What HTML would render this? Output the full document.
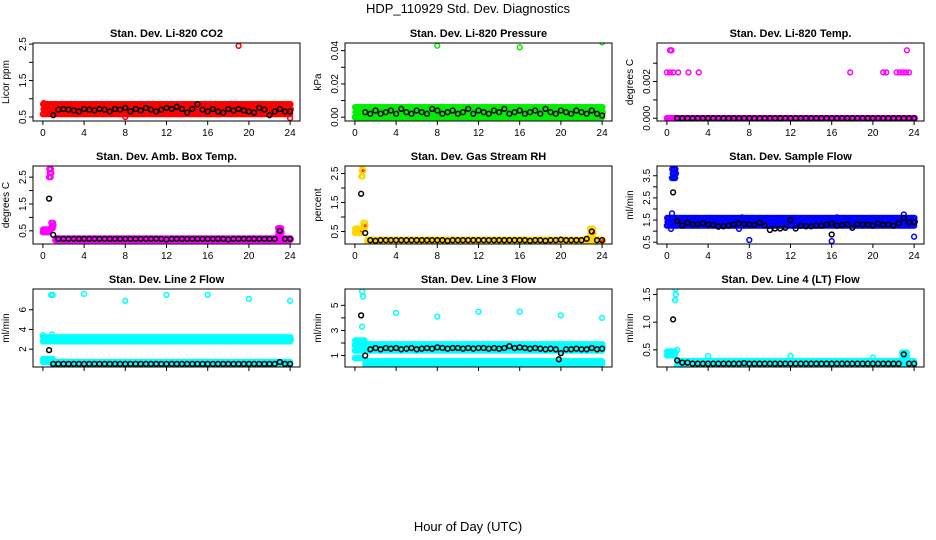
<!DOCTYPE html>
<html><head><meta charset="utf-8">
<style>
html,body{margin:0;padding:0;background:#fff;}
svg{display:block;font-family:"Liberation Sans",Arial,sans-serif;}
</style></head>
<body>
<svg id="chart" width="936" height="540" viewBox="0 0 936 540">
<text x="468" y="13" font-size="13" text-anchor="middle">HDP_110929  Std. Dev. Diagnostics</text>
<text x="468" y="531" font-size="13" text-anchor="middle">Hour of Day (UTC)</text>
</svg>
<script>
// ---------- data ----------
const xTicks = [0,4,8,12,16,20,24];
const panelTitles = ["Stan. Dev. Li-820 CO2","Stan. Dev. Li-820 Pressure","Stan. Dev. Li-820 Temp.",
 "Stan. Dev. Amb. Box Temp.","Stan. Dev. Gas Stream RH","Stan. Dev. Sample Flow",
 "Stan. Dev. Line 2 Flow","Stan. Dev. Line 3 Flow","Stan. Dev. Line 4 (LT) Flow"];
const yTitles = ["Licor ppm","kPa","degrees C","degrees C","percent","ml/min","ml/min","ml/min","ml/min"];
const yLims = [[0.39,2.53],[-0.0023,0.0446],[-0.00015,0.0041],[0.01,2.915],[0.07,2.76],[0.42,3.94],[0.19,8.1],[0.09,6.3],[0.19,1.6]];
const yTickVals = [[0.5,1,1.5,2,2.5],[0,0.01,0.02,0.03,0.04],[0,0.001,0.002,0.003],[0.5,1,1.5,2,2.5],[0.5,1,1.5,2,2.5],[0.5,1,1.5,2,2.5,3,3.5],[2,4,6],[1,2,3,4,5],[0.5,1,1.5]];
const yTickLabels = [["0.5","","1.5","","2.5"],["0.00","","0.02","","0.04"],["0.000","","0.002",""],["0.5","","1.5","","2.5"],["0.5","","1.5","","2.5"],["0.5","","1.5","","2.5","","3.5"],["2","4","6"],["1","","3","","5"],["0.5","1.0","1.5"]];
const seriesColors = ["#ff0000","#00ee00","#ff00ff","#ff00ff","#ffd700","#0000ff","#00ffff","#00ffff","#00ffff"];
// bands: [panel, hourStart, hourEnd, low, high]
const bands = [
 [0,0,24,0.58,0.85],
 [1,0,24,0.0,0.006],
 [2,0,24,0.0,0.0],
 [3,1.2,24,0.15,0.22],[3,0,0.7,0.45,0.55],[3,0.6,0.8,2.5,2.8],[3,0.8,1.0,0.6,0.8],[3,22.8,23.2,0.3,0.6],
 [4,1.2,24,0.15,0.22],[4,0,0.7,0.45,0.6],[4,0.6,0.8,2.4,2.8],[4,0.8,1.0,0.6,0.8],[4,22.8,23.2,0.3,0.6],
 [5,0,24,1.25,1.6],[5,0.5,0.8,3.4,3.8],
 [6,0,24,2.8,3.2],[6,1,24,0.4,0.7],[6,0,1,0.7,1.0],
 [7,0,24,1.4,1.9],[7,1,24,0.3,0.55],[7,0,0.5,0.8,0.8],[7,0,1,1.8,2.2],
 [8,1,24,0.22,0.3],[8,0,0.8,0.4,0.47],[8,0.8,0.9,1.4,1.6],[8,22.8,23.3,0.3,0.45]
];
// colored outliers: [panel, hour, value]
const outliers = [
 [0,19,2.45],[0,8,0.5],[0,24,0.47],[0,0.1,0.88],
 [1,8,0.043],[1,16,0.042],[1,24,0.045],
 [2,0.3,0.0037],[2,0.45,0.0037],[2,0,0.0025],[2,0.3,0.0025],[2,0.6,0.0025],[2,1.1,0.0025],[2,2.1,0.0025],[2,3.1,0.0025],[2,17.8,0.0025],[2,21,0.0025],[2,21.3,0.0025],[2,22.3,0.0025],[2,22.6,0.0025],[2,22.9,0.0025],[2,23.2,0.0025],[2,23.5,0.0025],[2,23.3,0.0037],
 [5,0.4,1.1],[5,7,1.1],[5,8,0.6],[5,16,0.55],[5,24,0.75],[5,0.5,1.8],[5,16.5,1.62],[5,7.3,1.62],[5,23,1.75],
 [6,0.8,7.5],[6,0.95,7.5],[6,4,7.6],[6,8,6.9],[6,12,7.5],[6,16,7.5],[6,20,7.1],[6,24,6.9],[6,0,3.4],[6,0.9,3.5],
 [7,0.7,6.1],[7,0.8,5.7],[7,0.7,3.3],[7,4,4.4],[7,8,4.1],[7,12,4.5],[7,16,4.5],[7,20,4.2],[7,24,4.0],
 [8,4,0.39],[8,12,0.39],[8,20,0.36],[8,1.0,0.5]
];
// black points every half hour from 1.0 to 24.0 (47 values)
const blackHours = [1,1.5,2,2.5,3,3.5,4,4.5,5,5.5,6,6.5,7,7.5,8,8.5,9,9.5,10,10.5,11,11.5,12,12.5,13,13.5,14,14.5,15,15.5,16,16.5,17,17.5,18,18.5,19,19.5,20,20.5,21,21.5,22,22.5,23,23.5,24];
const blackVals = [
 [0.55,0.7,0.72,0.7,0.68,0.65,0.72,0.7,0.68,0.72,0.7,0.65,0.72,0.7,0.75,0.65,0.72,0.68,0.75,0.7,0.65,0.7,0.75,0.72,0.78,0.72,0.62,0.72,0.85,0.7,0.65,0.72,0.65,0.62,0.72,0.68,0.72,0.68,0.65,0.62,0.75,0.7,0.55,0.65,0.72,0.65,0.65],
 [0.003,0.002,0.004,0.002,0.003,0.004,0.002,0.005,0.003,0.002,0.004,0.003,0.002,0.005,0.004,0.002,0.003,0.004,0.002,0.003,0.005,0.002,0.004,0.003,0.002,0.004,0.003,0.005,0.002,0.003,0.004,0.002,0.003,0.004,0.002,0.005,0.003,0.002,0.004,0.003,0.002,0.004,0.003,0.002,0.004,0.002,0.001],
 [0,0,0,0,0,0,0,0,0,0,0,0,0,0,0,0,0,0,0,0,0,0,0,0,0,0,0,0,0,0,0,0,0,0,0,0,0,0,0,0,0,0,0,0,0,0,0],
 [0.35,0.2,0.2,0.2,0.2,0.2,0.2,0.2,0.2,0.2,0.2,0.2,0.2,0.2,0.2,0.2,0.2,0.2,0.2,0.2,0.2,0.2,0.18,0.2,0.2,0.2,0.2,0.2,0.2,0.2,0.2,0.2,0.2,0.2,0.18,0.2,0.2,0.2,0.2,0.2,0.2,0.2,0.2,0.2,0.5,0.2,0.2],
 [0.45,0.2,0.18,0.2,0.2,0.2,0.2,0.2,0.2,0.2,0.2,0.2,0.2,0.2,0.2,0.2,0.18,0.2,0.2,0.2,0.2,0.2,0.2,0.2,0.2,0.2,0.2,0.2,0.2,0.2,0.2,0.2,0.18,0.2,0.2,0.18,0.2,0.2,0.22,0.2,0.2,0.2,0.2,0.25,0.5,0.2,0.2],
 [1.45,1.25,1.38,1.3,1.32,1.36,1.3,1.28,1.2,1.22,1.25,1.3,1.35,1.32,1.3,1.28,1.38,1.25,1.05,1.12,1.12,1.15,1.5,1.12,1.25,1.22,1.22,1.25,1.25,1.3,1.35,1.25,1.28,1.32,1.15,1.32,1.3,1.3,1.25,1.35,1.28,1.3,1.25,1.35,1.6,1.4,1.4],
 [0.5,0.5,0.5,0.5,0.5,0.5,0.5,0.5,0.5,0.5,0.5,0.5,0.5,0.5,0.5,0.5,0.5,0.5,0.5,0.5,0.5,0.5,0.5,0.5,0.5,0.5,0.5,0.5,0.5,0.5,0.5,0.5,0.5,0.5,0.5,0.5,0.5,0.5,0.5,0.5,0.5,0.5,0.5,0.5,0.7,0.5,0.5],
 [1.0,1.5,1.6,1.5,1.6,1.55,1.6,1.5,1.55,1.6,1.5,1.55,1.6,1.55,1.65,1.6,1.55,1.6,1.6,1.55,1.6,1.55,1.6,1.6,1.55,1.6,1.55,1.6,1.75,1.6,1.65,1.6,1.55,1.6,1.55,1.5,1.55,1.5,1.2,1.5,1.5,1.55,1.5,1.5,1.6,1.5,1.55],
 [0.31,0.27,0.27,0.25,0.25,0.25,0.25,0.25,0.25,0.25,0.25,0.25,0.25,0.26,0.25,0.25,0.25,0.25,0.25,0.25,0.25,0.25,0.25,0.25,0.25,0.25,0.25,0.25,0.25,0.25,0.25,0.25,0.25,0.25,0.25,0.25,0.25,0.25,0.25,0.25,0.25,0.25,0.25,0.25,0.42,0.25,0.25]
];
// extra black points: [panel, hour, value]
const blackExtra = [[3,0.6,1.7],[4,0.6,1.8],[5,0.6,2.75],[5,16,0.85],[6,0.6,1.9],[7,0.6,4.2],[7,19.8,0.7],[8,0.6,1.05]];

// ---------- layout ----------
const svg = document.getElementById('chart');
const NS = 'http://www.w3.org/2000/svg';
const colLeft = [33,345,657], rowTop = [43,166,289], boxW = 267, boxH = 78;
const xLim = [-0.96,24.96];
function mk(tag, attrs, parent){const e=document.createElementNS(NS,tag);for(const k in attrs)e.setAttribute(k,attrs[k]);(parent||svg).appendChild(e);return e;}
function xScale(p,h){return colLeft[p%3]+(h-xLim[0])/(xLim[1]-xLim[0])*boxW;}
function yScale(p,v){const [a,b]=yLims[p];return rowTop[Math.floor(p/3)]+boxH-(v-a)/(b-a)*boxH;}
function dot(g,p,h,v,color,sw){
  const c=mk('circle',{cx:xScale(p,h).toFixed(1),cy:yScale(p,v).toFixed(1),r:2.4,fill:'none',stroke:color,'stroke-width':sw||1.4},g);
  
  
  return c;
}

for(let p=0;p<9;p++){
  const L=colLeft[p%3], T=rowTop[Math.floor(p/3)], row=Math.floor(p/3);
  const g=mk('g',{});
  
  
  const t=mk('text',{x:L+boxW/2,y:T-6,'font-size':11,'font-weight':'bold','text-anchor':'middle'},g);
  t.textContent=panelTitles[p];
  
  
  const yl=mk('text',{x:0,y:0,'font-size':10,'text-anchor':'middle',transform:`translate(${L-24},${T+boxH/2}) rotate(-90)`},g);
  yl.textContent=yTitles[p];
  
  
  const xa=mk('line',{x1:xScale(p,0),x2:xScale(p,24),y1:T+boxH,y2:T+boxH,stroke:'#000'},g);
  
  
  xTicks.forEach(h=>{
    mk('line',{x1:xScale(p,h),x2:xScale(p,h),y1:T+boxH,y2:T+boxH+4,stroke:'#000'},g);
    if(row<2){
      const tl=mk('text',{x:xScale(p,h),y:T+boxH+15,'font-size':10,'text-anchor':'middle'},g);
      tl.textContent=String(h);
      
      
    }
  });
  const tv=yTickVals[p];
  const ya=mk('line',{x1:L,x2:L,y1:yScale(p,tv[0]),y2:yScale(p,tv[tv.length-1]),stroke:'#000'},g);
  
  
  tv.forEach((v,i)=>{
    const y=yScale(p,v);
    mk('line',{x1:L-4,x2:L,y1:y,y2:y,stroke:'#000'},g);
    if(yTickLabels[p][i]){
      const tl=mk('text',{x:0,y:0,'font-size':10,'text-anchor':'middle',transform:`translate(${L-7},${y}) rotate(-90)`},g);
      tl.textContent=yTickLabels[p][i];
      
      
    }
  });
  const cp=mk('clipPath',{id:'clip'+p},g);
  mk('rect',{x:L,y:T,width:boxW,height:boxH},cp);
  const pg=mk('g',{'clip-path':`url(#clip${p})`},g);
  
  
  const col=seriesColors[p];
  bands.filter(b=>b[0]===p).forEach(b=>{
    const [_,h0,h1,lo,hi]=b;
    for(let h=h0;h<=h1+1e-9;h+=0.15){
      dot(pg,p,h,lo,col,1.6);
      dot(pg,p,h+0.07,(lo+hi)/2,col,1.6);
      dot(pg,p,h+0.03,hi,col,1.6);
      if(p===4){dot(pg,p,h+0.05,(lo+hi)/2,'#ff0000',0.8).setAttribute('r',1);}
    }
  });
  outliers.filter(o=>o[0]===p).forEach(o=>dot(pg,p,o[1],o[2],col,1.5));
  blackHours.forEach((h,i)=>dot(pg,p,h,blackVals[p][i],'#000',1.5));
  blackExtra.filter(o=>o[0]===p).forEach(o=>dot(pg,p,o[1],o[2],'#000',1.5));
  const box=mk('rect',{x:L,y:T,width:boxW,height:boxH,fill:'none',stroke:'#000'},g);
  
  
}
</script>
</body></html>
